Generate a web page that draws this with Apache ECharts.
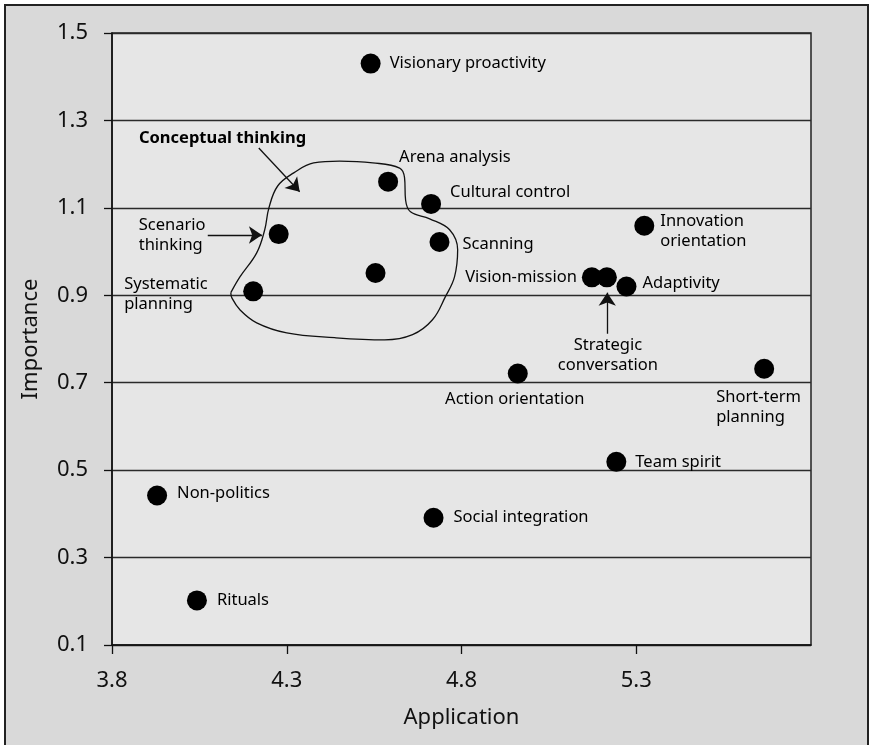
<!DOCTYPE html>
<html>
<head>
<meta charset="utf-8">
<script src="https://cdn.jsdelivr.net/npm/echarts@6/dist/echarts.min.js"></script>
<style>
  html, body { margin: 0; padding: 0; background: #fff; }
  #frame {
    position: absolute; left: 4px; top: 4px; width: 865px; height: 760px;
    box-sizing: border-box; border: 2px solid #222; background: #d9d9d9;
  }
  #chart { position: absolute; left: 0; top: 0; width: 869px; height: 745px; }
</style>
</head>
<body>
<div id="frame"></div>
<div id="chart"></div>
<script>
// competences: application (x) vs importance (y)
const names = [
  "Visionary proactivity", "Arena analysis", "Cultural control", "Scenario\nthinking",
  "Scanning", "", "Systematic\nplanning", "Innovation\norientation",
  "Vision-mission", "Strategic\nconversation", "Adaptivity", "Action orientation",
  "Short-term\nplanning", "Team spirit", "Non-politics", "Social integration", "Rituals",
];
const application = [
  4.54, 4.59, 4.713, 4.277,
  4.737, 4.554, 4.204, 5.323,
  5.173, 5.216, 5.272, 4.961,
  5.666, 5.243, 3.929, 4.72, 4.043,
];
const importance = [
  1.43, 1.16, 1.109, 1.04,
  1.022, 0.951, 0.909, 1.059,
  0.941, 0.941, 0.92, 0.721,
  0.732, 0.519, 0.442, 0.391, 0.202,
];

const xTicks = [3.8, 4.3, 4.8, 5.3];
const yTicks = [0.1, 0.3, 0.5, 0.7, 0.9, 1.1, 1.3, 1.5];

// hand drawn "conceptual thinking" outline, in data units
const outlineX = [4.140, 4.166, 4.214, 4.237, 4.249, 4.274, 4.320, 4.377, 4.451, 4.546, 4.623, 4.637, 4.640, 4.654,
  4.709, 4.766, 4.789, 4.780, 4.754, 4.717, 4.660, 4.580, 4.437, 4.300, 4.214, 4.166, 4.143, 4.140];
const outlineY = [0.906, 0.942, 0.997, 1.050, 1.100, 1.150, 1.180, 1.203, 1.207, 1.203, 1.191, 1.169, 1.118, 1.091,
  1.075, 1.050, 1.004, 0.942, 0.897, 0.844, 0.810, 0.798, 0.803, 0.814, 0.837, 0.867, 0.894, 0.906];

// label placement (offset from dot centre, px)
const labelPlace = {
  "Visionary proactivity": [19, 0, "left"],
  "Arena analysis": [11, -24, "left"],
  "Cultural control": [19, -12, "left"],
  "Scenario\nthinking": [-140, 1, "left"],
  "Scanning": [23, 2, "left"],
  "Systematic\nplanning": [-129, 3, "left"],
  "Innovation\norientation": [16, 6, "left"],
  "Vision-mission": [-15, 0, "right"],
  "Strategic\nconversation": [1, 78, "center"],
  "Adaptivity": [16, -3, "left"],
  "Action orientation": [-3, 26, "center"],
  "Short-term\nplanning": [-48, 39, "left"],
  "Team spirit": [19, 0, "left"],
  "Non-politics": [20, -2, "left"],
  "Social integration": [20, 0, "left"],
  "Rituals": [20, 0, "left"],
};

const FONT = "Noto Sans";

const points = names.map((n, i) => {
  const p = labelPlace[n];
  return {
    name: n,
    value: [application[i], importance[i]],
    label: p ? {
      show: true, position: "inside", offset: [p[0], p[1]],
      align: p[2], verticalAlign: "middle",
    } : { show: false },
  };
});

const outline = outlineX.map((x, i) => [x, outlineY[i]]);

const chart = echarts.init(document.getElementById("chart"));

chart.setOption({
  animation: false,
  backgroundColor: "transparent",
  textStyle: { fontFamily: FONT },
  grid: {
    left: 112, top: 33, right: 58, bottom: 100,
    show: true, backgroundColor: "#e6e6e6", borderColor: "#222", borderWidth: 1.5,
    outerBoundsMode: "none",
  },
  xAxis: {
    type: "value", min: 3.8, max: 5.8,
    name: "Application", nameLocation: "middle", nameGap: 62,
    nameTextStyle: { fontSize: 22, color: "#111", fontFamily: FONT },
    axisLine: { show: true, lineStyle: { color: "#111", width: 1.5 } },
    axisTick: { show: true, length: 9, customValues: xTicks, lineStyle: { color: "#111", width: 1.3 } },
    axisLabel: {
      customValues: xTicks, margin: 25, fontSize: 22, color: "#111", fontFamily: FONT,
      formatter: (v) => v.toFixed(1),
    },
    splitLine: { show: false },
  },
  yAxis: {
    type: "value", min: 0.1, max: 1.5,
    name: "Importance", nameLocation: "middle", nameGap: 70,
    nameTextStyle: { fontSize: 22, color: "#111", fontFamily: FONT },
    axisLine: { show: true, lineStyle: { color: "#111", width: 1.5 } },
    axisTick: { show: true, length: 8, customValues: yTicks, lineStyle: { color: "#111", width: 1.3 } },
    axisLabel: {
      customValues: yTicks, margin: 24, fontSize: 22, color: "#111", fontFamily: FONT,
      formatter: (v) => v.toFixed(1),
    },
    splitLine: { show: true, lineStyle: { color: "#2a2a2a", width: 1.4 } },
  },
  series: [
    {
      type: "line",
      data: outline,
      smooth: 0.4,
      symbol: "none",
      silent: true,
      z: 2,
      lineStyle: { color: "#111", width: 1.3 },
      markLine: {
        silent: true,
        symbol: ["none", "arrow"],
        symbolSize: 13,
        label: { show: false },
        lineStyle: { color: "#111", width: 1.3, type: "solid" },
        data: [
          [{ coord: [4.220, 1.237] }, { coord: [4.337, 1.137] }],
          [{ coord: [4.074, 1.038] }, { coord: [4.229, 1.038] }],
          [{ coord: [5.217, 0.812] }, { coord: [5.217, 0.906] }],
        ],
      },
      markPoint: {
        silent: true,
        symbol: "circle",
        symbolSize: 0,
        data: [{ name: "Conceptual thinking", coord: [3.877, 1.26] }],
        label: {
          show: true, position: "inside", align: "left", verticalAlign: "middle",
          formatter: "{b}", fontSize: 16.5, fontWeight: "bold", color: "#000", fontFamily: FONT,
          textBorderWidth: 0,
        },
      },
    },
    {
      type: "scatter",
      data: points,
      symbol: "circle",
      symbolSize: 20,
      z: 3,
      itemStyle: { color: "#000", opacity: 1 },
      label: {
        color: "#000", fontSize: 16.5, lineHeight: 20, fontFamily: FONT,
        formatter: "{b}", textBorderWidth: 0, opacity: 1,
      },
      emphasis: { disabled: true },
    },
  ],
});
</script>
</body>
</html>
